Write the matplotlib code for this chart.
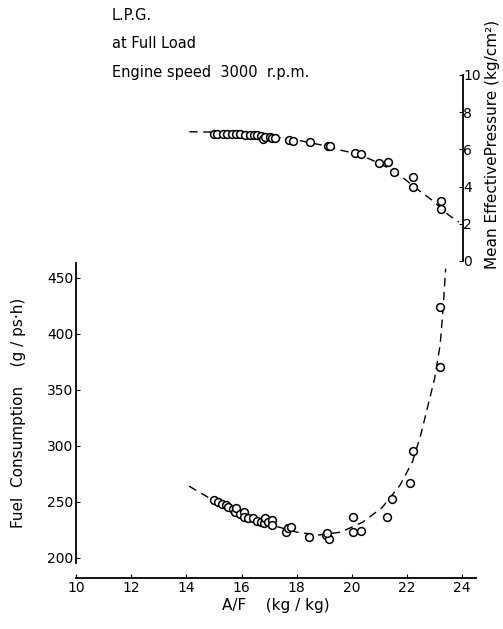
import matplotlib.pyplot as plt

# A/F vs mean effective pressure (upper plot)
mep_af = [15.0, 15.1, 15.3, 15.45, 15.65, 15.8, 15.95, 16.1, 16.3, 16.45, 16.55, 16.7, 16.75,
          16.85, 17.0, 17.1, 17.2, 17.7, 17.85, 18.45, 19.1, 19.2, 20.1, 20.3, 20.95, 21.3,
          21.5, 22.2, 22.2, 23.2, 23.2]
mep = [6.85, 6.85, 6.83, 6.85, 6.83, 6.83, 6.82, 6.8, 6.8, 6.78, 6.75, 6.72, 6.55,
       6.65, 6.68, 6.6, 6.62, 6.5, 6.45, 6.4, 6.2, 6.2, 5.8, 5.75, 5.25, 5.3,
       4.8, 4.5, 4.0, 3.2, 2.8]
mep_curve_af = [14.1, 15, 16, 17, 18, 19, 19.6, 20.2, 20.75, 21.3, 21.85, 22.4, 22.9, 23.5, 23.85]
mep_curve = [6.95, 6.93, 6.87, 6.72, 6.5, 6.2, 5.95, 5.75, 5.4, 5.0, 4.45, 3.8, 3.25, 2.45, 2.1]

# A/F vs fuel consumption (lower plot)
fc_af = [15.0, 15.15, 15.3, 15.45, 15.5, 15.7, 15.75, 15.8, 15.95, 16.1, 16.1, 16.25, 16.4,
         16.55, 16.7, 16.8, 16.85, 16.95, 17.1, 17.1, 17.6, 17.7, 17.8, 18.45, 19.05, 19.17,
         19.1, 20.04, 20.04, 20.33, 21.27, 21.45, 22.1, 22.2, 23.2, 23.2]
fc = [251.8, 250, 248, 247, 245.5, 244, 241, 244.6, 239, 241, 236.6, 235.7, 235.7,
      233, 232, 231, 235.7, 232, 234, 229.5, 223, 226.8, 227.7, 218.75, 220.5, 217,
      222, 236.6, 223, 224, 236.6, 252.7, 267, 295.5, 370, 424]
fc_curve_af = [14.1, 15, 16, 17, 18, 18.8, 19.6, 20.4, 21.1, 21.75, 22.2, 22.5, 23.0, 23.2, 23.3, 23.4]
fc_curve = [264, 251, 240, 230, 223, 220.5, 223, 232, 245, 265, 286, 310, 360, 390, 420, 458]

W, H = 503, 629
fig = plt.figure(figsize=(W / 100, H / 100), dpi=100)
plt.rcParams['font.family'] = 'DejaVu Sans'

dash = (0, (6, 4))
mk = dict(marker='o', linestyle='none', markersize=5.6, markerfacecolor='white',
          markeredgecolor='black', markeredgewidth=1.1)

# lower axes: fuel consumption
ax = fig.add_axes([76 / W, (H - 563) / H, 400 / W, 300 / H])
ax.plot(fc_curve_af, fc_curve, color='black', lw=1, linestyle=dash)
ax.plot(fc_af, fc, **mk)
ax.set_xlim(10, 24.5)
ax.set_ylim(195.5, 463)
ax.spines['top'].set_visible(False)
ax.spines['right'].set_visible(False)
ax.spines['bottom'].set_position(('outward', 10.8))
ax.spines['left'].set_linewidth(1.3)
ax.spines['bottom'].set_linewidth(1.3)
ax.set_xticks(range(10, 25, 2))
ax.set_yticks(range(200, 451, 50))
ax.tick_params(direction='in', length=3, labelsize=10, pad=2)
ax.set_xlabel('A/F    (kg / kg)', fontsize=11, labelpad=2)
ax.set_ylabel('Fuel  Consumption    (g / ps·h)', fontsize=11, labelpad=15)
ax.patch.set_alpha(0)

# upper axes: mean effective pressure
ax2 = fig.add_axes([76 / W, (H - 261) / H, (463 - 76) / W, 186 / H])
ax2.plot(mep_curve_af, mep_curve, color='black', lw=1, linestyle=dash)
ax2.plot(mep_af, mep, **mk)
ax2.set_xlim(10, 24)
ax2.set_ylim(0, 10)
for s in ['top', 'left', 'bottom']:
    ax2.spines[s].set_visible(False)
ax2.spines['right'].set_linewidth(1.3)
ax2.set_xticks([])
ax2.yaxis.tick_right()
ax2.yaxis.set_label_position('right')
ax2.set_yticks(range(0, 11, 2))
ax2.tick_params(direction='in', length=3, labelsize=10, pad=0)
ax2.set_ylabel('Mean EffectivePressure (kg/cm²)', fontsize=11)
ax2.yaxis.set_label_coords((485 - 76) / 387, (261 - 144) / 186)
ax2.patch.set_alpha(0)

fig.text(112 / W, 1 - 15 / H, 'L.P.G.', fontsize=10.5, va='center')
fig.text(112 / W, 1 - 44 / H, 'at Full Load', fontsize=10.5, va='center')
fig.text(112 / W, 1 - 72 / H, 'Engine speed  3000  r.p.m.', fontsize=10.5, va='center')

fig.savefig('out.png', dpi=100)
